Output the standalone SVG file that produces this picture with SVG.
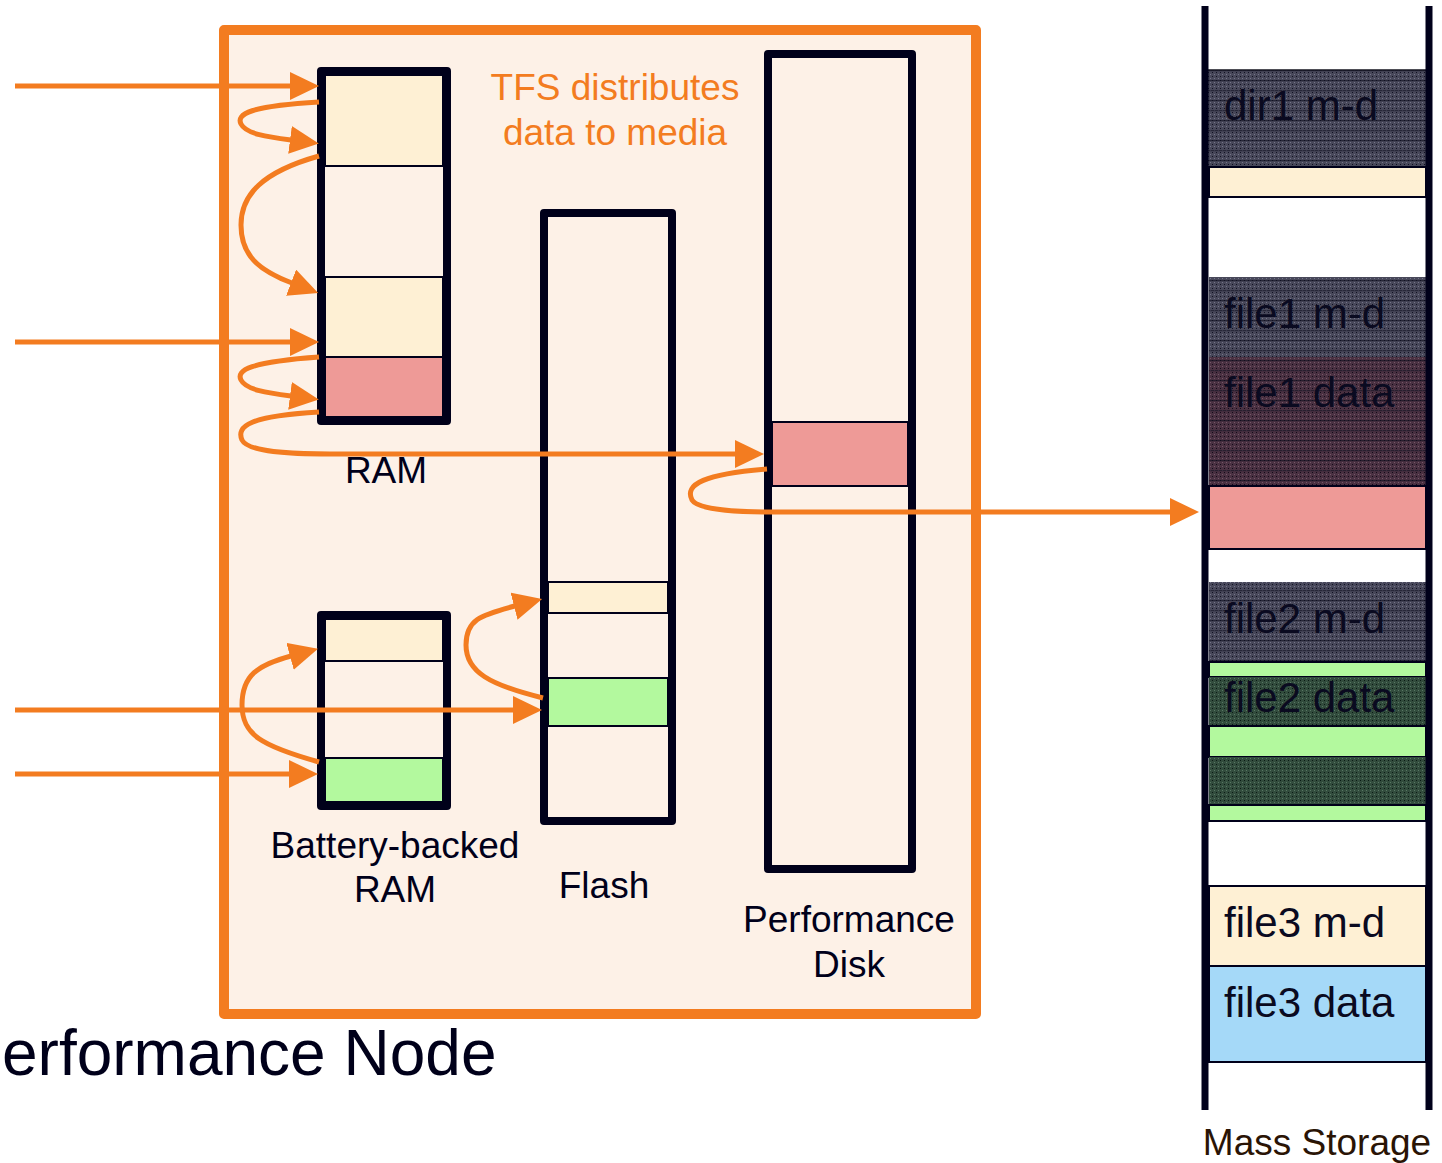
<svg xmlns="http://www.w3.org/2000/svg" width="1442" height="1163" viewBox="0 0 1442 1163">
<style>
.lbl{font-family:"Liberation Sans",Arial,sans-serif;font-size:37px;fill:#00001a}
.org{font-family:"Liberation Sans",Arial,sans-serif;font-size:37px;fill:#f37c20}
.box{fill:none;stroke:#00001a;stroke-width:8;stroke-linejoin:round}
.seg{stroke:#00001a;stroke-width:2}
.con{fill:none;stroke:#f37c20;stroke-width:5}
.ms{font-family:"Liberation Sans",Arial,sans-serif;font-size:42px;fill:#0a0a20}
</style>
<defs>
<marker id="ah" markerUnits="userSpaceOnUse" markerWidth="30" markerHeight="28" viewBox="0 0 30 28" refX="1" refY="14" orient="auto">
<path d="M0,0 L29,14 L0,28 z" fill="#f37c20"/>
</marker>
<pattern id="pGrey" patternUnits="userSpaceOnUse" width="4" height="4">
<rect width="4" height="4" fill="#48485a"/>
<rect x="0" y="0" width="1" height="1" fill="#101022"/>
<rect x="2" y="2" width="1" height="1" fill="#75758a"/>
</pattern>
<pattern id="pRed" patternUnits="userSpaceOnUse" width="4" height="4">
<rect width="4" height="4" fill="#4a3142"/>
<rect x="0" y="0" width="1" height="1" fill="#120a18"/>
<rect x="2" y="2" width="1" height="1" fill="#755868"/>
</pattern>
<pattern id="pGreen" patternUnits="userSpaceOnUse" width="4" height="4">
<rect width="4" height="4" fill="#324c3d"/>
<rect x="0" y="0" width="1" height="1" fill="#0a1a14"/>
<rect x="2" y="2" width="1" height="1" fill="#587864"/>
</pattern>
<pattern id="pLines" patternUnits="userSpaceOnUse" width="8" height="10">
<rect x="0" y="0" width="8" height="1.2" fill="#101022" opacity="0.6"/>
</pattern>
</defs>

<g id="performance-node">
<rect x="224" y="30" width="752" height="984" fill="#fdf1e7" stroke="#f37c20" stroke-width="10" stroke-linejoin="round"/>
<text class="org" x="615" y="100" text-anchor="middle">TFS distributes</text>
<text class="org" x="615" y="145" text-anchor="middle">data to media</text>
</g>
<text x="2" y="1075" style="font-family:'Liberation Sans',Arial,sans-serif;font-size:64px;fill:#00001a">erformance Node</text>

<g id="ram">
<rect x="321" y="71" width="126" height="350" fill="#fdf1e7"/>
<rect class="seg" x="325" y="75" width="118" height="91" fill="#fef0d4"/>
<rect class="seg" x="325" y="277" width="118" height="80" fill="#fef0d4"/>
<rect class="seg" x="325" y="357" width="118" height="60" fill="#ee9a97"/>
<rect class="box" x="321" y="71" width="126" height="350"/>
<text class="lbl" x="386" y="483" text-anchor="middle">RAM</text>
</g>

<g id="bb-ram">
<rect x="321" y="615" width="126" height="191" fill="#fdf1e7"/>
<rect class="seg" x="325" y="619" width="118" height="42" fill="#fef0d4"/>
<rect class="seg" x="325" y="758" width="118" height="44" fill="#b3f99e"/>
<rect class="box" x="321" y="615" width="126" height="191"/>
<text class="lbl" x="395" y="858" text-anchor="middle">Battery-backed</text>
<text class="lbl" x="395" y="902" text-anchor="middle">RAM</text>
</g>

<g id="flash">
<rect x="544" y="213" width="128" height="608" fill="#fdf1e7"/>
<rect class="seg" x="548" y="582" width="120" height="31" fill="#fef0d4"/>
<rect class="seg" x="548" y="678" width="120" height="48" fill="#b3f99e"/>
<rect class="box" x="544" y="213" width="128" height="608"/>
<text class="lbl" x="604" y="898" text-anchor="middle">Flash</text>
</g>

<g id="perf-disk">
<rect x="768" y="54" width="144" height="815" fill="#fdf1e7"/>
<rect class="seg" x="772" y="422" width="136" height="64" fill="#ee9a97"/>
<rect class="box" x="768" y="54" width="144" height="815"/>
<text class="lbl" x="849" y="932" text-anchor="middle">Performance</text>
<text class="lbl" x="849" y="977" text-anchor="middle">Disk</text>
</g>

<g id="mass-storage">
<rect x="1209" y="6" width="217" height="1104" fill="#ffffff"/>
<rect x="1203" y="70" width="225" height="97" fill="url(#pGrey)" stroke="#15151f" stroke-width="1.5"/>
<rect x="1203" y="70" width="225" height="97" fill="url(#pLines)"/>
<rect class="seg" x="1209" y="167" width="217" height="30" fill="#fef0d4"/>
<rect x="1209" y="277" width="217" height="80" fill="url(#pGrey)"/>
<rect x="1209" y="277" width="217" height="80" fill="url(#pLines)"/>
<rect x="1209" y="357" width="217" height="128" fill="url(#pRed)"/>
<rect x="1209" y="357" width="217" height="128" fill="url(#pLines)"/>
<rect class="seg" x="1209" y="486" width="217" height="63" fill="#ee9a97"/>
<rect x="1209" y="582" width="217" height="80" fill="url(#pGrey)"/>
<rect x="1209" y="582" width="217" height="80" fill="url(#pLines)"/>
<rect class="seg" x="1209" y="662" width="217" height="15" fill="#b3f99e"/>
<rect x="1209" y="677" width="217" height="49" fill="url(#pGreen)"/>
<rect class="seg" x="1209" y="726" width="217" height="31" fill="#b3f99e"/>
<rect x="1209" y="757" width="217" height="48" fill="url(#pGreen)"/>
<rect class="seg" x="1209" y="805" width="217" height="16" fill="#b3f99e"/>
<rect class="seg" x="1209" y="886" width="217" height="80" fill="#fef0d4"/>
<rect class="seg" x="1209" y="966" width="217" height="96" fill="#a5d9f8"/>
<line x1="1205" y1="6" x2="1205" y2="1110" stroke="#00001a" stroke-width="7"/>
<line x1="1429" y1="6" x2="1429" y2="1110" stroke="#00001a" stroke-width="7"/>
<text class="ms" x="1224" y="120">dir1 m-d</text>
<text class="ms" x="1224" y="328">file1 m-d</text>
<text class="ms" x="1224" y="407">file1 data</text>
<text class="ms" x="1224" y="633">file2 m-d</text>
<text class="ms" x="1224" y="712">file2 data</text>
<text class="ms" x="1224" y="937">file3 m-d</text>
<text class="ms" x="1224" y="1017">file3 data</text>
<text x="1317" y="1155" text-anchor="middle" style="font-family:'Liberation Sans',Arial,sans-serif;font-size:37px;fill:#2a1405">Mass Storage</text>
</g>

<g id="connectors">
<path class="con" marker-end="url(#ah)" d="M15,86 H291"/>
<path class="con" marker-end="url(#ah)" d="M319,102 C250,106 236,114 241,124 C246,134 268,137 291,140"/>
<path class="con" marker-end="url(#ah)" d="M319,156 C262,172 241,195 241,225 C241,255 258,270 292,283"/>
<path class="con" marker-end="url(#ah)" d="M15,342 H291"/>
<path class="con" marker-end="url(#ah)" d="M319,357 C250,362 236,370 241,380 C246,390 268,393 291,396"/>
<path class="con" marker-end="url(#ah)" d="M319,412 C250,416 236,426 242,440 C248,452 290,454 330,454 H736"/>
<path class="con" marker-end="url(#ah)" d="M767,469 C705,474 684,484 692,500 C698,510 740,512 770,512 H1171"/>
<path class="con" marker-end="url(#ah)" d="M15,710 H514"/>
<path class="con" marker-end="url(#ah)" d="M15,774 H290"/>
<path class="con" marker-end="url(#ah)" d="M319,762 C262,746 242,735 242,705 C242,675 258,665 291,656"/>
<path class="con" marker-end="url(#ah)" d="M543,698 C490,685 466,672 466,645 C466,620 480,615 515,606"/>
</g>
</svg>
